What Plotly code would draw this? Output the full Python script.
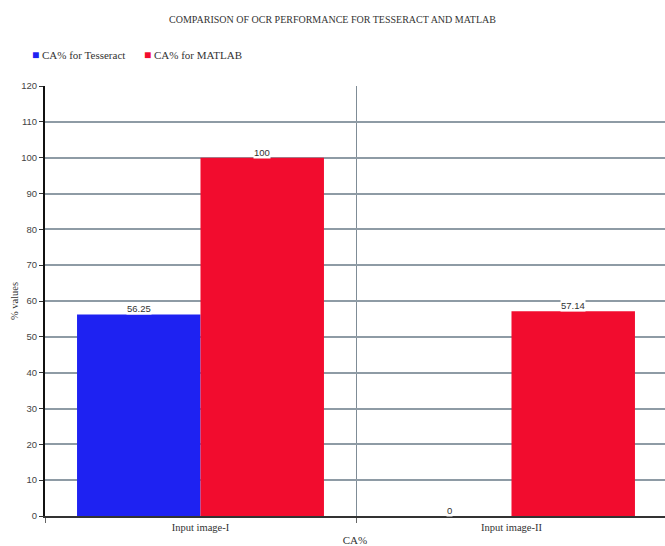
import plotly.graph_objects as go

categories = ["Input image-I", "Input image-II"]
series_names = ["CA% for Tesseract", "CA% for MATLAB"]
tesseract = [56.25, 0]
matlab = [100, 57.14]
tess_labels = ["56.25", "0"]
matlab_labels = ["100", "57.14"]
y_ticks = list(range(0, 121, 10))

colors = ["#1E22F2", "#F20C2E"]
SERIF = "Liberation Serif"
SANS = "Liberation Sans"
BARGAP = 0.206

fig = go.Figure()
for name, vals, col in zip(series_names, [tesseract, matlab], colors):
    fig.add_trace(go.Bar(x=categories, y=vals, name=name, showlegend=False,
                         marker=dict(color=col, line=dict(width=0))))

# value labels with white background, positioned on the bar centres
annotations = []
n_series = 2
bar_w = (1 - BARGAP) / n_series
for s, labels in enumerate([tess_labels, matlab_labels]):
    vals = [tesseract, matlab][s]
    off = -((1 - BARGAP) / 2) + bar_w * (s + 0.5)
    for i, (v, lab) in enumerate(zip(vals, labels)):
        annotations.append(dict(x=i + off, y=v, xref="x", yref="y", text=lab,
                                showarrow=False, yanchor="bottom", yshift=-1,
                                bgcolor="white", borderpad=0,
                                font=dict(size=9.5, family=SANS, color="#333333")))

# legend row (custom, small squares)
legend_px = [30, 142]
for name, col, px in zip(series_names, colors, legend_px):
    annotations.append(dict(x=(px - 45) / 620, y=1 + 31 / 430, xref="paper", yref="paper",
                            xanchor="left", yanchor="middle", showarrow=False,
                            text=f"<span style='color:{col};font-size:12px'>■</span> {name}",
                            font=dict(size=11, family=SERIF, color="#333333")))

fig.update_layout(
    width=665, height=546,
    margin=dict(l=45, r=0, t=86, b=30),
    paper_bgcolor="white", plot_bgcolor="white",
    barmode="group", bargap=BARGAP, bargroupgap=0,
    font=dict(family=SERIF, size=10, color="#333333"),
    title=dict(text="COMPARISON OF OCR PERFORMANCE FOR TESSERACT AND MATLAB",
               x=0.5, xref="container", xanchor="center", y=1 - 19/546, yanchor="middle",
               font=dict(size=10, family=SERIF, color="#333333")),
    annotations=annotations,
    xaxis=dict(range=[-0.5, 1.4936], tickson="boundaries", ticks="outside", ticklen=5,
               tickcolor="#666666", showgrid=True, gridcolor="#7f8c96", gridwidth=1,
               showline=True, linecolor="#333333", linewidth=2,
               title=dict(text="CA%", standoff=5, font=dict(size=11, family=SERIF)),
               tickfont=dict(size=10.5, family=SERIF)),
    yaxis=dict(range=[0, 120], tickvals=y_ticks, ticks="outside", ticklen=4,
               tickcolor="#333333", showgrid=True, gridcolor="#8e9ba5", gridwidth=1.5,
               showline=True, linecolor="#111111", linewidth=2, zeroline=False,
               title=dict(text="% values", standoff=1, font=dict(size=10.5, family=SERIF)),
               tickfont=dict(size=9.5, family=SANS, color="#444444")),
)

fig.write_html("out.html")
